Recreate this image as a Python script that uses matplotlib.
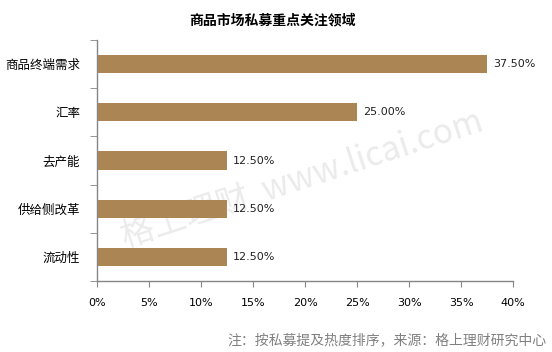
import matplotlib
matplotlib.use('Agg')
import matplotlib.pyplot as plt
from matplotlib.ticker import FuncFormatter, MultipleLocator
import numpy as np

plt.rcParams['font.family'] = ['Noto Sans CJK SC', 'DejaVu Sans']

# data, top to bottom
categories = ['商品终端需求', '汇率', '去产能', '供给侧改革', '流动性']
values = [37.5, 25.0, 12.5, 12.5, 12.5]
title = '商品市场私募重点关注领域'
note = '注：按私募提及热度排序，来源：格上理财研究中心'

bar_color = '#AB8654'
axis_color = '#868686'

fig = plt.figure(figsize=(5.52, 3.52), dpi=100)
ax = fig.add_axes([97 / 552, 1 - 281 / 352, 416 / 552, 241 / 352])

ypos = np.arange(len(categories))
ax.barh(ypos, values, height=0.38, color=bar_color, zorder=2)
for y, v in zip(ypos, values):
    ax.text(v + 0.6, y, '%.2f%%' % v, va='center', ha='left',
            fontsize=8, color='#222222', family='DejaVu Sans', zorder=3)

ax.set_xlim(0, 40)
ax.set_ylim(len(categories) - 0.5, -0.5)
ax.xaxis.set_major_locator(MultipleLocator(5))
ax.xaxis.set_major_formatter(FuncFormatter(lambda x, p: '%d%%' % x))

# category labels centered on bars, ticks at boundaries
ax.set_yticks(ypos)
ax.set_yticklabels(categories, fontsize=9)
ax.set_yticks(np.arange(len(categories) + 1) - 0.5, minor=True)
ax.tick_params(axis='y', which='major', length=0, pad=12)
ax.tick_params(axis='y', which='minor', length=5, color=axis_color,
               direction='out')
ax.tick_params(axis='x', length=4, color=axis_color, direction='out',
               labelsize=8, pad=8)
for lbl in ax.get_xticklabels():
    lbl.set_family('DejaVu Sans')

for s in ['top', 'right']:
    ax.spines[s].set_visible(False)
for s in ['left', 'bottom']:
    ax.spines[s].set_color(axis_color)
    ax.spines[s].set_linewidth(1.0)

fig.text(272 / 552, 1 - 20 / 352, title, ha='center', va='center',
         fontsize=10, fontweight='bold')
fig.text(547 / 552, 1 - 340 / 352, note, ha='right', va='center',
         fontsize=10, color='#808080')

# watermark, behind the bars
ax.text(302 / 552, 1 - 180 / 352, '格上理财  www.licai.com',
        transform=fig.transFigure, ha='center', va='center', fontsize=24,
        color='#ebebeb', rotation=18, zorder=1, clip_on=False)

fig.savefig('out.png', dpi=100)
